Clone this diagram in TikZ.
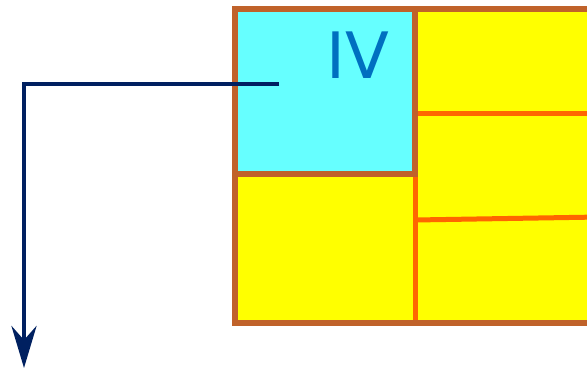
\documentclass[tikz,border=0pt]{standalone}
\usepackage{fontspec}
\setmainfont{DejaVu Sans}
\usetikzlibrary{arrows.meta}
\definecolor{cellcyan}{HTML}{66FFFF}
\definecolor{cellyellow}{HTML}{FFFF00}
\definecolor{rim}{HTML}{C0622A}
\definecolor{seam}{HTML}{FF6600}
\definecolor{navy}{HTML}{002060}
\definecolor{labelblue}{HTML}{0070C0}
\begin{document}
\begin{tikzpicture}[x=1pt,y=-1pt,
    rimline/.style={draw=rim,line width=5.5pt},
    seamline/.style={draw=seam,line width=5pt},
    leader/.style={draw=navy,line width=4.5pt,-{Stealth[length=42pt,width=25pt,inset=14pt]}}]
  \useasboundingbox (0,0) rectangle (587,369);
  \clip (0,0) rectangle (587,369);
  % grid of cells
  \fill[cellyellow] (235,9) rectangle (600,323);
  \fill[cellcyan] (235,9) rectangle (415,174);
  \begin{scope}[seamline]
    \draw (415,174) -- (415,323);
    \draw (415,114) -- (600,114);
    \draw (415,220) -- (600,217);
  \end{scope}
  \begin{scope}[rimline]
    \draw (235,9) rectangle (600,323);
    \draw (235,9) rectangle (415,174);
  \end{scope}
  \node[text=labelblue,font=\fontsize{64}{64}\selectfont,anchor=base] (iv) at (358,78) {IV};
  % leader out of cell IV
  \coordinate (from) at (279,84);
  \coordinate (bend) at (24,84);
  \coordinate (to) at (24,368);
  \draw[leader] (from) -- (bend) -- (to);
\end{tikzpicture}
\end{document}
